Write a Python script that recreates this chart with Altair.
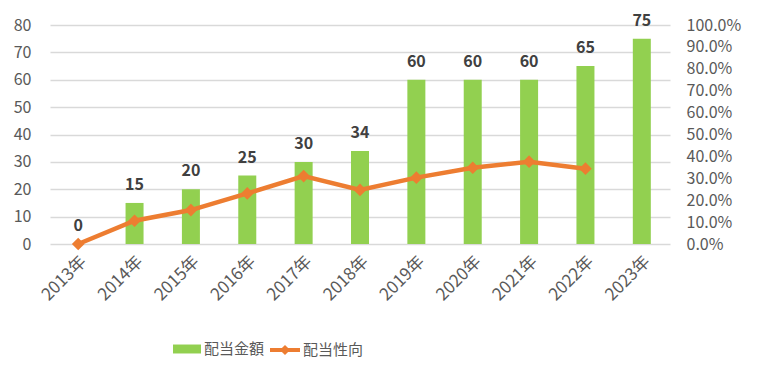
import altair as alt
import pandas as pd

years = ["2013年", "2014年", "2015年", "2016年", "2017年", "2018年",
         "2019年", "2020年", "2021年", "2022年", "2023年"]
dividend = [0, 15, 20, 25, 30, 34, 60, 60, 60, 65, 75]
payout_years = ["2013年", "2014年", "2015年", "2016年", "2017年", "2018年",
                "2019年", "2020年", "2021年", "2022年"]
payout = [0.0, 0.106, 0.155, 0.231, 0.310, 0.247, 0.303, 0.348, 0.376, 0.344]
bar_name = "配当金額"
line_name = "配当性向"

FONT = "Noto Sans CJK JP"
GREEN = "#92D050"
ORANGE = "#ED7D31"
GREY = "#595959"

bars_df = pd.DataFrame({"year": years, "value": dividend, "s": bar_name})
line_df = pd.DataFrame({"year": payout_years, "ratio": payout, "s": line_name})

xscale = alt.Scale(domain=years, paddingInner=0, paddingOuter=0)
x = alt.X("year:N", scale=xscale, sort=years,
          axis=alt.Axis(title=None, labelAngle=315, labelAlign="right",
                        labelBaseline="top", labelPadding=9, ticks=False,
                        domain=False, labelFont=FONT, labelFontSize=17,
                        labelColor=GREY, labelOverlap=False))

left_axis = alt.Axis(title=None, values=list(range(0, 81, 10)),
                     grid=True, gridColor="#D9D9D9", gridWidth=1.5,
                     domain=False, ticks=False, labelPadding=19,
                     labelOverlap=False,
                     labelFont=FONT, labelFontSize=16, labelColor=GREY)
y_left = alt.Y("value:Q", scale=alt.Scale(domain=[0, 80], nice=False),
               axis=left_axis)

bar_legend = alt.Legend(title=None, orient="none", legendX=123, legendY=310,
                        symbolType="M-1,-0.32H1V0.32H-1Z", symbolSize=784,
                        symbolStrokeWidth=0, labelFont=FONT, labelFontSize=15,
                        labelColor=GREY, labelOffset=3)
line_legend = alt.Legend(title=None, orient="none", legendX=220, legendY=310,
                         symbolType="M-1,-0.14H1V0.14H-1Z M0,-0.34L0.34,0L0,0.34L-0.34,0Z",
                         symbolSize=900, symbolStrokeWidth=0, labelFont=FONT,
                         labelFontSize=15, labelColor=GREY, labelOffset=3)

bars = alt.Chart(bars_df).mark_bar(size=18).encode(
    x=x, y=y_left,
    color=alt.Color("s:N", scale=alt.Scale(domain=[bar_name], range=[GREEN]),
                    legend=bar_legend),
)
labels = alt.Chart(bars_df).mark_text(
    baseline="alphabetic", dy=-13, font=FONT, fontSize=16, fontWeight="bold",
    color="#404040"
).encode(x=x, y=y_left, text="value:Q")

left = alt.layer(bars, labels)

y_right = alt.Y("ratio:Q", scale=alt.Scale(domain=[0, 1], nice=False),
                axis=alt.Axis(title=None, orient="right", format=".1%",
                              values=[i / 10 for i in range(11)], grid=False,
                              domain=False, ticks=False, labelPadding=16,
                              labelOverlap=False,
                              labelFont=FONT, labelFontSize=16, labelColor=GREY))

line = alt.Chart(line_df).mark_line(color=ORANGE, strokeWidth=4.5).encode(
    x=x, y=y_right)
points = alt.Chart(line_df).mark_point(shape="diamond", filled=True, size=160,
                                       opacity=1).encode(
    x=x, y=y_right,
    color=alt.Color("s:N", scale=alt.Scale(domain=[line_name], range=[ORANGE]),
                    legend=line_legend),
)
right = alt.layer(line, points)

chart = alt.layer(left, right).resolve_scale(
    y="independent", color="independent"
).resolve_legend(color="independent").properties(
    width=620, height=219,
    autosize=alt.AutoSizeParams(type="none"),
    padding={"left": 42, "top": 17, "right": 80, "bottom": 128},
    background="white",
).configure_view(stroke=None)

chart.save("out.html", embed_options={"renderer": "svg", "actions": False})
